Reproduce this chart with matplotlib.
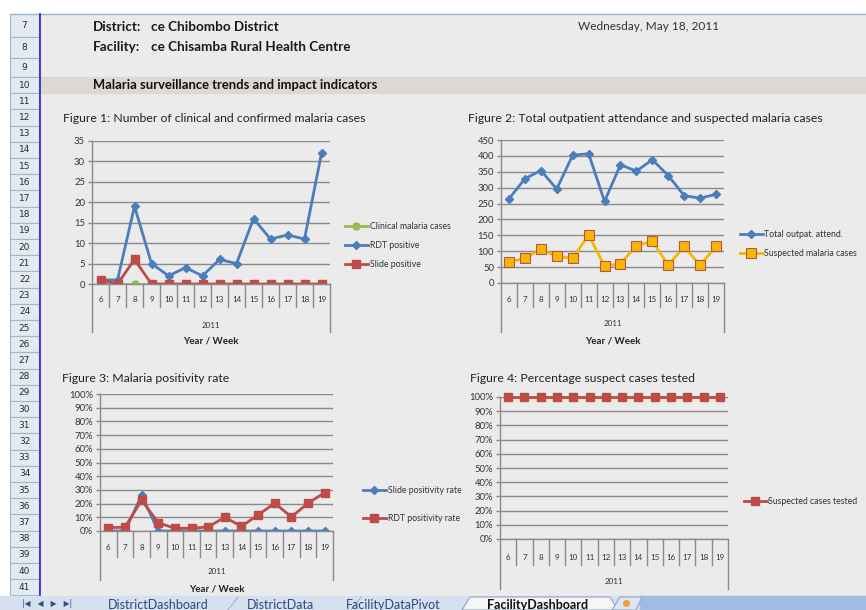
import matplotlib
matplotlib.use('Agg')
import matplotlib.pyplot as plt
from matplotlib.patches import Rectangle, Polygon
from matplotlib.ticker import PercentFormatter, MultipleLocator

# data (2011, weeks 6-19)
weeks = [6, 7, 8, 9, 10, 11, 12, 13, 14, 15, 16, 17, 18, 19]
year = "2011"
clinical = [0, 0, 0, 0, 0, 0, 0, 0, 0, 0, 0, 0, 0, 0]
rdt_pos = [1, 1, 19, 5, 2, 4, 2, 6, 5, 16, 11, 12, 11, 32]
slide_pos = [1, 0, 6, 0, 0, 0, 0, 0, 0, 0, 0, 0, 0, 0]
opd_total = [265, 328, 354, 296, 402, 407, 257, 372, 352, 388, 338, 275, 267, 279]
suspected = [66, 78, 107, 84, 78, 151, 53, 61, 117, 132, 56, 115, 56, 115]
slide_rate = [0, 0, 0.26, 0, 0, 0, 0, 0, 0, 0, 0, 0, 0, 0]
rdt_rate = [0.025, 0.027, 0.225, 0.06, 0.02, 0.02, 0.03, 0.10, 0.034, 0.117, 0.203, 0.103, 0.203, 0.28]
tested_rate = [1, 1, 1, 1, 1, 1, 1, 1, 1, 1, 1, 1, 1, 1]

sheet_rows = list(range(7, 42))
sheet_tabs = ["DistrictDashboard", "DistrictData", "FacilityDataPivot", "FacilityDashboard"]

W, H = 866, 610
BG = '#ebebeb'
GRID = '#8a8a8a'
BLUE, RED, GREEN, ORANGE = '#4a7ebb', '#be4b48', '#98b954', '#f5b800'
FONT = ['Lato', 'DejaVu Sans']

plt.rcParams['font.family'] = FONT

fig = plt.figure(figsize=(W / 100, H / 100), dpi=100)
fig.patch.set_facecolor('white')

# ---- spreadsheet background (pixel coordinates) ----
bg = fig.add_axes([0, 0, 1, 1])
bg.set_xlim(0, W)
bg.set_ylim(H, 0)
bg.axis('off')
bg.add_patch(Rectangle((39, 14), W - 39, 582, color=BG, zorder=0))
bg.plot([10, W], [14, 14], color='#9eb6ce', lw=1)

# row headers
def row_span(n):
    if n == 7:
        return 14, 37
    if n == 8:
        return 37, 58
    if n == 9:
        return 58, 77
    top = 77 + 16.2 * (n - 10)
    return top, top + 16.2

for n in sheet_rows:
    t, b = row_span(n)
    bg.add_patch(Rectangle((10, t), 29, b - t, facecolor='#e3eaf4', edgecolor='#9eb6ce', lw=0.8, zorder=1))
    bg.text(24.5, (t + b) / 2, str(n), ha='center', va='center', fontsize=6.5, color='#2a2a2a',
            family=['Liberation Sans Narrow', 'DejaVu Sans'])
bg.plot([39.5, 39.5], [14, 596], color='#2222cc', lw=1.2, zorder=2)

# header
hdr = dict(fontsize=9.7, fontweight='bold', va='center', color='#1a1a1a')
bg.text(93, 27, "District:", **hdr)
bg.text(151, 27, "ce Chibombo District", **hdr)
bg.text(93, 47, "Facility:", **hdr)
bg.text(151, 47, "ce Chisamba Rural Health Centre", **hdr)
bg.text(578, 27, "Wednesday, May 18, 2011", fontsize=8.6, va='center', color='#333333')
bg.add_patch(Rectangle((40, 77), W - 40, 16, color='#dcd9d2', zorder=1))
bg.text(93, 85, "Malaria surveillance trends and impact indicators", fontsize=9.4,
        fontweight='bold', va='center', color='#111111', zorder=3)

# sheet tab bar
bg.add_patch(Rectangle((0, 596), W, 14, color='#d6e0ee', zorder=4))
bg.add_patch(Rectangle((640, 596), W - 640, 14, color='#a2bbe0', zorder=4))
bg.text(47, 604, "|◀   ◀   ▶   ▶|", fontsize=5.5, ha='center', va='center', color='#2f4f7f',
        family='DejaVu Sans', zorder=5)
tab_x = [158, 281, 393, 538]
for i, (name, x) in enumerate(zip(sheet_tabs, tab_x)):
    active = i == len(sheet_tabs) - 1
    if active:
        bg.add_patch(Polygon([(462, 610), (470, 597), (610, 597), (618, 610)], closed=True,
                             facecolor='#f6f6f6', edgecolor='#8ea6c8', lw=0.8, zorder=5))
    else:
        bg.plot([x + 70, x + 80], [610, 597], color='#a0b4d0', lw=0.8, zorder=5)
    bg.text(x, 605, name, fontsize=9, ha='center', va='center', zorder=6,
            color='#111111' if active else '#2b4a7a', fontweight='bold' if active else 'normal')
bg.add_patch(Polygon([(612, 610), (620, 597), (642, 597), (636, 610)], closed=True,
                     facecolor='#dfe6f2', edgecolor='#8ea6c8', lw=0.8, zorder=5))
bg.plot(626, 603, 'o', ms=4, color='#f0a030', zorder=6)


def chart(box, title_xy, title):
    x0, y0, x1, y1 = box
    ax = fig.add_axes([x0 / W, 1 - y1 / H, (x1 - x0) / W, (y1 - y0) / H])
    ax.set_facecolor('none')
    for s in ['top', 'right']:
        ax.spines[s].set_visible(False)
    for s in ['left', 'bottom']:
        ax.spines[s].set_color(GRID)
        ax.spines[s].set_linewidth(1)
    ax.grid(axis='y', color=GRID, lw=1)
    ax.set_axisbelow(True)
    ax.tick_params(axis='y', length=3, width=1, color=GRID, labelsize=6.8, labelcolor='#333333', pad=2)
    ax.set_xticks([])
    ax.set_xlim(-0.5, len(weeks) - 0.5)
    bg.text(title_xy[0], title_xy[1], title, fontsize=8.8, va='center', color='#222222')
    return ax


def cat_axis(ax, box, lab_y, div_y, out_y, year_y, xt_y):
    x0, y0, x1, y1 = box
    h = y1 - y0
    tr = ax.get_xaxis_transform()
    f = lambda py: -(py - y1) / h
    for i, w in enumerate(weeks):
        ax.text(i, f(lab_y), str(w), transform=tr, ha='center', va='center', fontsize=5.8,
                color='#333333', clip_on=False)
    for i in range(1, len(weeks)):
        ax.plot([i - 0.5, i - 0.5], [0, f(div_y)], transform=tr, color=GRID, lw=1, clip_on=False)
    for xe in [-0.5, len(weeks) - 0.5]:
        ax.plot([xe, xe], [0, f(out_y)], transform=tr, color=GRID, lw=1, clip_on=False)
    ax.text((len(weeks) - 1) / 2, f(year_y), year, transform=tr, ha='center', va='center',
            fontsize=5.8, color='#333333', clip_on=False)
    if xt_y is not None:
        ax.text((len(weeks) - 1) / 2, f(xt_y), "Year / Week", transform=tr, ha='center', va='center',
                fontsize=7, fontweight='bold', color='#222222', clip_on=False)


def legend(ax, x, y, spacing):
    ax.legend(loc='center left', bbox_to_anchor=(x / W, 1 - y / H), bbox_transform=fig.transFigure,
              frameon=False, fontsize=6.3, handlelength=2.6, handletextpad=0.2, borderpad=0,
              borderaxespad=0, labelspacing=spacing, labelcolor='#333333')


x = list(range(len(weeks)))

# Figure 1
b1 = (92, 141, 330, 284)
ax1 = chart(b1, (63, 119), "Figure 1: Number of clinical and confirmed malaria cases")
ax1.plot(x, clinical, color=GREEN, lw=2, marker='o', ms=5, label="Clinical malaria cases")
ax1.plot(x, rdt_pos, color=BLUE, lw=2, marker='D', ms=4, label="RDT positive")
ax1.plot(x, slide_pos, color=RED, lw=2, marker='s', ms=6, label="Slide positive")
ax1.set_ylim(0, 35)
ax1.yaxis.set_major_locator(MultipleLocator(5))
cat_axis(ax1, b1, 300, 307, 332, 325, 341)
legend(ax1, 345, 245.5, 1.1)

# Figure 2
b2 = (501, 140, 724, 283)
ax2 = chart(b2, (468, 119), "Figure 2: Total outpatient attendance and suspected malaria cases")
ax2.plot(x, opd_total, color=BLUE, lw=2, marker='D', ms=4, label="Total outpat. attend.")
ax2.plot(x, suspected, color=ORANGE, lw=2, marker='s', ms=6.5, mfc=ORANGE, mec='#c0504d',
         mew=0.8, label="Suspected malaria cases")
ax2.set_ylim(0, 450)
ax2.yaxis.set_major_locator(MultipleLocator(50))
cat_axis(ax2, b2, 299, 307, 332, 323, 341)
legend(ax2, 740, 244, 1.1)

# Figure 3
b3 = (100, 394, 333, 531)
ax3 = chart(b3, (62, 379), "Figure 3: Malaria positivity rate")
ax3.plot(x, slide_rate, color=BLUE, lw=2, marker='D', ms=4, label="Slide positivity rate")
ax3.plot(x, rdt_rate, color=RED, lw=2, marker='s', ms=6, label="RDT positivity rate")
ax3.set_ylim(0, 1)
ax3.yaxis.set_major_locator(MultipleLocator(0.1))
ax3.yaxis.set_major_formatter(PercentFormatter(1, decimals=0))
cat_axis(ax3, b3, 548, 557, 580, 572, 589)
legend(ax3, 363, 504.5, 2.1)

# Figure 4
b4 = (500, 397, 728, 539)
ax4 = chart(b4, (470, 378), "Figure 4: Percentage suspect cases tested")
ax4.plot(x, tested_rate, color=RED, lw=2, marker='s', ms=6, label="Suspected cases tested", clip_on=False)
ax4.set_ylim(0, 1)
ax4.yaxis.set_major_locator(MultipleLocator(0.1))
ax4.yaxis.set_major_formatter(PercentFormatter(1, decimals=0))
cat_axis(ax4, b4, 558, 565, 589, 581, None)
legend(ax4, 744, 502, 1.1)

fig.savefig('out.png', dpi=100, facecolor=fig.get_facecolor())
